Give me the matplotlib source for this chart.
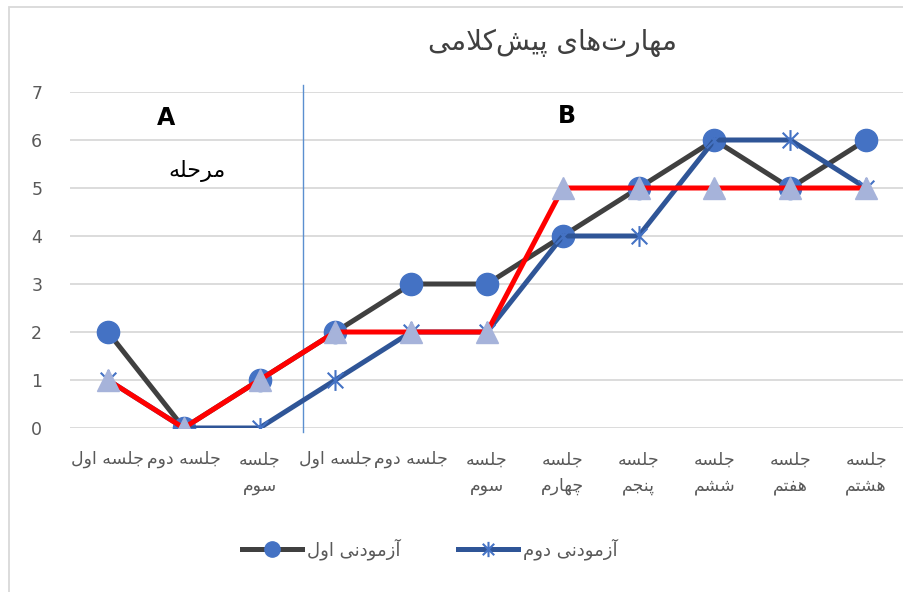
import matplotlib
matplotlib.use("Agg")
import matplotlib.pyplot as plt
from matplotlib.lines import Line2D
from matplotlib.path import Path

# ---------------------------------------------------------------
# data
# ---------------------------------------------------------------
title = "مهارت‌های پیش‌کلامی"
sessions = ["جلسه اول", "جلسه دوم", "جلسه\nسوم", "جلسه اول", "جلسه دوم",
            "جلسه\nسوم", "جلسه\nچهارم", "جلسه\nپنجم", "جلسه\nششم",
            "جلسه\nهفتم", "جلسه\nهشتم"]
subject1 = [2, 0, 1, 2, 3, 3, 4, 5, 6, 5, 6]
subject2 = [1, 0, 0, 1, 2, 2, 4, 4, 6, 6, 5]
criterion = [1, 0, 1, 2, 2, 2, 5, 5, 5, 5, 5]
name1 = "آزمودنی اول"
name2 = "آزمودنی دوم"
phase_word = "مرحله"
yticks = [0, 1, 2, 3, 4, 5, 6, 7]

# ---------------------------------------------------------------
# tiny persian shaper (matplotlib has no bidi / shaping)
# ---------------------------------------------------------------
FORMS = {
    "ا": (0xFE8D, 0xFE8E), "آ": (0xFE81, 0xFE82),
    "د": (0xFEA9, 0xFEAA), "ر": (0xFEAD, 0xFEAE),
    "ز": (0xFEAF, 0xFEB0), "و": (0xFEED, 0xFEEE),
    "لا": (0xFEFB, 0xFEFC),
    "پ": (0xFB56, 0xFB57, 0xFB58, 0xFB59),
    "ت": (0xFE95, 0xFE96, 0xFE97, 0xFE98),
    "ج": (0xFE9D, 0xFE9E, 0xFE9F, 0xFEA0),
    "چ": (0xFB7A, 0xFB7B, 0xFB7C, 0xFB7D),
    "ح": (0xFEA1, 0xFEA2, 0xFEA3, 0xFEA4),
    "س": (0xFEB1, 0xFEB2, 0xFEB3, 0xFEB4),
    "ش": (0xFEB5, 0xFEB6, 0xFEB7, 0xFEB8),
    "ف": (0xFED1, 0xFED2, 0xFED3, 0xFED4),
    "ک": (0xFB8E, 0xFB8F, 0xFB90, 0xFB91),
    "ل": (0xFEDD, 0xFEDE, 0xFEDF, 0xFEE0),
    "م": (0xFEE1, 0xFEE2, 0xFEE3, 0xFEE4),
    "ن": (0xFEE5, 0xFEE6, 0xFEE7, 0xFEE8),
    "ه": (0xFEE9, 0xFEEA, 0xFEEB, 0xFEEC),
    "ی": (0xFBFC, 0xFBFD, 0xFBFE, 0xFBFF),
}


def shape_line(s):
    toks = []
    i = 0
    while i < len(s):
        if s[i] == "ل" and i + 1 < len(s) and s[i + 1] == "ا":
            toks.append("لا")
            i += 2
        else:
            toks.append(s[i])
            i += 1
    out = []
    for k, t in enumerate(toks):
        if t not in FORMS:
            if t != "\u200c":
                out.append(t)
            continue
        f = FORMS[t]
        prev_j = k > 0 and toks[k - 1] in FORMS and len(FORMS[toks[k - 1]]) == 4
        next_j = len(f) == 4 and k + 1 < len(toks) and toks[k + 1] in FORMS
        if prev_j and next_j:
            c = f[3]
        elif prev_j:
            c = f[1]
        elif next_j:
            c = f[2]
        else:
            c = f[0]
        out.append(chr(c))
    return "".join(reversed(out))


def fa(s):
    return "\n".join(shape_line(l) for l in s.split("\n"))


# excel style star: an X with a vertical stroke
d = 0.75
star = Path([(0, -1), (0, 1), (-d, -d), (d, d), (-d, d), (d, -d)],
            [Path.MOVETO, Path.LINETO] * 3)

# ---------------------------------------------------------------
# plot
# ---------------------------------------------------------------
plt.rcParams["font.family"] = ["DejaVu Sans"]

fig = plt.figure(figsize=(9.04, 5.92), dpi=100)
ax = fig.add_axes([70 / 904, 1 - 428 / 592, 834 / 904, 336 / 592])

x = list(range(len(sessions)))
ax.plot(x, subject1, color="#404040", lw=3.6, marker="o", ms=16,
        mfc="#4472C4", mec="#4472C4", zorder=3)
ax.plot(x, subject2, color="#2F5597", lw=3.6, marker=star, ms=15,
        mfc="none", mec="#4472C4", mew=1.5, zorder=4)
ax.plot(x, criterion, color="#FF0000", lw=3.6, marker="^", ms=16,
        mfc="#A6B3DA", mec="#A6B3DA", zorder=5)

ax.set_xlim(-0.5, len(sessions) - 0.5)
ax.set_ylim(0, 7)
ax.set_yticks(yticks)
ax.set_xticks(x)
ax.set_xticklabels([fa(s) for s in sessions], fontsize=12.5, color="#595959",
                   linespacing=1.6)
ax.tick_params(axis="both", length=0, labelsize=12.5, labelcolor="#595959")
ax.tick_params(axis="x", pad=16)
ax.tick_params(axis="y", pad=20)
ax.grid(axis="y", color="#D9D9D9", lw=1.3)
ax.set_axisbelow(True)
for sp in ax.spines.values():
    sp.set_visible(False)

# phase separator
ax.plot([2.57, 2.57], [-0.08, 7.15], color="#5B8FD0", lw=1, clip_on=False, zorder=2)

ax.text(0.77, 6.45, "A", fontsize=17, fontweight="bold", ha="center", va="center")
ax.text(6.05, 6.5, "B", fontsize=17, fontweight="bold", ha="center", va="center")
ax.text(1.18, 5.35, fa(phase_word), fontsize=16, ha="center", va="center")

fig.text(553 / 904, 1 - 43 / 592, fa(title), fontsize=20, color="#404040",
         ha="center", va="center")

handles = [
    Line2D([], [], color="#404040", lw=3.6, marker="o", ms=11,
           mfc="#4472C4", mec="#4472C4"),
    Line2D([], [], color="#2F5597", lw=3.6, marker=star, ms=11,
           mfc="none", mec="#4472C4", mew=1.5),
]
fig.legend(handles, [fa(name1), fa(name2)], loc="center",
           bbox_to_anchor=(430 / 904, 1 - 549 / 592), ncol=2, frameon=False,
           fontsize=13, labelcolor="#595959", handlelength=3.3,
           handletextpad=0.3, columnspacing=3.2)

# chart border
fig.add_artist(plt.Rectangle((9 / 904, -0.01), 1.0, 1 - 7 / 592 + 0.01,
                             transform=fig.transFigure, fill=False,
                             ec="#D9D9D9", lw=1.3))

fig.savefig("out.png", dpi=100)
